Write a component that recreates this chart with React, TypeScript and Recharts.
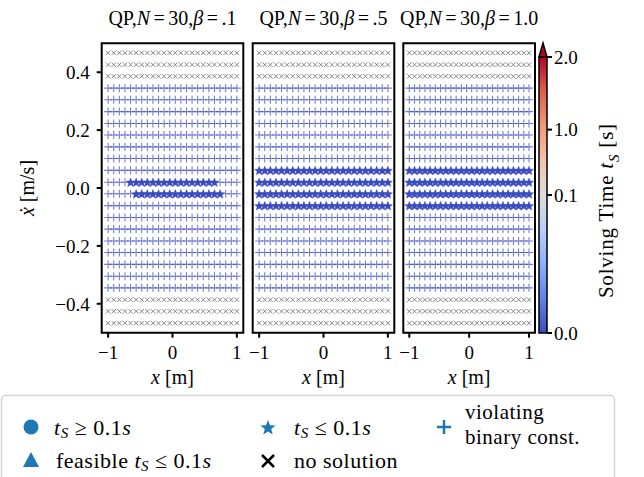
import React from 'react';
import { ScatterChart, Scatter, XAxis, YAxis, ReferenceArea, ComposedChart } from 'recharts';

// ---------- data ----------
const positions = [-1, -0.913, -0.826, -0.739, -0.652, -0.565, -0.478, -0.391, -0.304, -0.217, -0.13, -0.043,
  0.043, 0.13, 0.217, 0.304, 0.391, 0.478, 0.565, 0.652, 0.739, 0.826, 0.913, 1];
const velocities = [-0.467, -0.426, -0.386, -0.345, -0.305, -0.264, -0.223, -0.183, -0.142, -0.102, -0.061, -0.02,
  0.02, 0.061, 0.102, 0.142, 0.183, 0.223, 0.264, 0.305, 0.345, 0.386, 0.426, 0.467];
const noSolutionVelocities = [-0.467, -0.426, -0.386, 0.386, 0.426, 0.467];
const starSpansBeta01 = [
  { v: 0.02, from: -0.652, to: 0.652 },
  { v: -0.02, from: -0.565, to: 0.739 },
];
const starSpansBeta05 = [
  { v: 0.061, from: -1, to: 1 },
  { v: 0.02, from: -1, to: 1 },
  { v: -0.02, from: -1, to: 1 },
  { v: -0.061, from: -1, to: 1 },
];
const starSpansBeta10 = [
  { v: 0.061, from: -1, to: 1 },
  { v: 0.02, from: -1, to: 1 },
  { v: -0.02, from: -1, to: 1 },
  { v: -0.061, from: -1, to: 1 },
];
const betaLabels = ['.1', '.5', '1.0'];
const xTicks = [-1, 0, 1];
const yTicks = [-0.4, -0.2, 0, 0.2, 0.4];
const colorbarTicks = [0, 0.1, 1.0, 2.0];
const colorbarLabels = ['0.0', '0.1', '1.0', '2.0'];

// ---------- helpers ----------
const FONT = "'Liberation Serif', serif";
const near = (a: number, b: number) => Math.abs(a - b) < 1e-6;

function classify(spans: { v: number; from: number; to: number }[]) {
  const cross: any[] = [], plus: any[] = [], star: any[] = [];
  for (const v of velocities) {
    for (const x of positions) {
      if (noSolutionVelocities.some((n) => near(n, v))) cross.push({ x, y: v });
      else if (spans.some((s) => near(s.v, v) && x >= s.from - 1e-6 && x <= s.to + 1e-6)) star.push({ x, y: v });
      else plus.push({ x, y: v });
    }
  }
  return { cross, plus, star };
}

// TwoSlopeNorm(vmin=0, vcenter=0.1, vmax=2)
const norm = (t: number) => (t <= 0.1 ? (t / 0.1) * 0.5 : 0.5 + ((t - 0.1) / 1.9) * 0.5);

function starPath(cx: number, cy: number, R: number, r: number) {
  let d = '';
  for (let i = 0; i < 10; i++) {
    const rad = i % 2 === 0 ? R : r;
    const a = -Math.PI / 2 + (i * Math.PI) / 5;
    d += (i === 0 ? 'M' : 'L') + (cx + rad * Math.cos(a)).toFixed(2) + ',' + (cy + rad * Math.sin(a)).toFixed(2);
  }
  return d + 'Z';
}

const CrossShape = (p: any) => {
  const { cx, cy } = p;
  const s = 2.2;
  return (
    <path d={`M${cx - s},${cy - s}L${cx + s},${cy + s}M${cx - s},${cy + s}L${cx + s},${cy - s}`}
      stroke="#7a7a7a" strokeWidth={0.9} fill="none" />
  );
};
const PlusShape = (p: any) => {
  const { cx, cy } = p;
  const s = 4;
  return (
    <path d={`M${cx - s},${cy}L${cx + s},${cy}M${cx},${cy - s}L${cx},${cy + s}`}
      stroke="#3b4cc0" strokeOpacity={0.72} strokeWidth={1.1} fill="none" />
  );
};
const StarShape = (p: any) => {
  const { cx, cy } = p;
  return <path d={starPath(cx, cy + 0.5, 4.8, 2.1)} fill="#3b4cc0" stroke="#3b4cc0" strokeWidth={0.4} />;
};

const fmtX = (v: number) => (v < 0 ? '\u2212' + Math.abs(v) : String(v));
const fmtY = (v: number) => (v < 0 ? '\u2212' : '') + Math.abs(v).toFixed(1);

const BOX_T = 43.3;
const BOX_B = 332.7;
const CH_W = 644;
const CH_H = 400;
const YW = 40;
const XH = 30;

function Panel({ spans, L, R, showY }: { spans: any[]; L: number; R: number; showY: boolean }) {
  const d = classify(spans);
  return (
    <div style={{ position: 'absolute', left: 0, top: 0, fontFamily: FONT }}>
      <ScatterChart width={CH_W} height={CH_H}
        margin={{ left: L - YW, right: CH_W - R, top: BOX_T, bottom: CH_H - BOX_B - XH }}>
        <XAxis type="number" dataKey="x" domain={[-1.1, 1.1]} ticks={xTicks} allowDataOverflow
          height={XH} tickFormatter={fmtX} tickSize={5} tickMargin={8} axisLine={false}
          tickLine={{ stroke: '#000', strokeWidth: 2 }}
          tick={{ fill: '#000', fontSize: 19, style: { fontFamily: FONT } }} />
        <YAxis type="number" dataKey="y" domain={[-0.5, 0.5]} ticks={yTicks} allowDataOverflow
          width={YW} tickFormatter={fmtY} tickSize={5} tickMargin={7} axisLine={false}
          tickLine={{ stroke: '#000', strokeWidth: 2 }}
          tick={showY ? { fill: '#000', fontSize: 19, style: { fontFamily: FONT } } : false} />
        <Scatter data={d.plus} shape={PlusShape} isAnimationActive={false} />
        <Scatter data={d.star} shape={StarShape} isAnimationActive={false} />
        <Scatter data={d.cross} shape={CrossShape} isAnimationActive={false} />
        <ReferenceArea x1={-1.1} x2={1.1} y1={-0.5} y2={0.5} fill="none" fillOpacity={0}
          stroke="#000" strokeWidth={2} ifOverflow="visible" />
      </ScatterChart>
    </div>
  );
}

const CB_L = 539;
const CB_R = 547;
const CB_TOP = 57;
const CB_TIP = 43;
const CB_B = 333;
const extTop = 1 + (CB_TOP - CB_TIP) / (CB_B - CB_TOP);

function Colorbar() {
  const tickPos = colorbarTicks.map(norm);
  const labelFor = (v: number) => {
    const i = tickPos.findIndex((t) => near(t, v));
    return i >= 0 ? colorbarLabels[i] : '';
  };
  return (
    <div style={{ position: 'absolute', left: 0, top: 0, fontFamily: FONT }}>
      <ComposedChart width={CH_W} height={CH_H}
        margin={{ left: CB_L, right: CH_W - CB_R - 50, top: CB_TIP, bottom: CH_H - CB_B }}>
        <defs>
          <linearGradient id="coolwarm" x1="0" y1="1" x2="0" y2="0">
            <stop offset="0" stopColor="#3b4cc0" />
            <stop offset="0.125" stopColor="#6282ea" />
            <stop offset="0.25" stopColor="#8db0fe" />
            <stop offset="0.375" stopColor="#b8d0f9" />
            <stop offset="0.5" stopColor="#dddcdc" />
            <stop offset="0.625" stopColor="#f5c4ac" />
            <stop offset="0.75" stopColor="#f4987a" />
            <stop offset="0.875" stopColor="#de604d" />
            <stop offset="1" stopColor="#b40426" />
          </linearGradient>
        </defs>
        <XAxis type="number" dataKey="x" domain={[0, 1]} hide allowDataOverflow />
        <YAxis type="number" dataKey="y" orientation="right" domain={[0, extTop]} allowDataOverflow
          ticks={tickPos} tickFormatter={labelFor} width={50} tickSize={5} tickMargin={2} axisLine={false}
          tickLine={{ stroke: '#000', strokeWidth: 2 }}
          tick={{ fill: '#000', fontSize: 19, style: { fontFamily: FONT } }} />
        <Scatter data={[]} isAnimationActive={false} />
        <ReferenceArea x1={0} x2={1} y1={0} y2={1} fill="url(#coolwarm)" fillOpacity={1}
          stroke="#000" strokeWidth={1.5} ifOverflow="visible" />
        <ReferenceArea x1={0} x2={1} y1={1} y2={extTop} ifOverflow="visible"
          shape={(p: any) => (
            <path d={`M${p.x},${p.y + p.height}L${p.x + p.width / 2},${p.y}L${p.x + p.width},${p.y + p.height}Z`}
              fill="#b40426" stroke="#000" strokeWidth={1.5} />
          )} />
      </ComposedChart>
    </div>
  );
}

function Legend() {
  const blue = '#1f77b4';
  const ts = { style: { fontFamily: FONT, fontSize: 22, letterSpacing: 0.5 }, fill: '#000' } as any;
  const ts2 = { style: { fontFamily: FONT, fontSize: 21, letterSpacing: 0.5 }, fill: '#000' } as any;
  const TS = () => (<><tspan fontStyle="italic">t</tspan><tspan fontStyle="italic" style={{ fontSize: 15 }} dy={3}>S</tspan><tspan dy={-3}>{'\u2005'}</tspan></>);
  return (
    <svg width={644} height={90} style={{ position: 'absolute', left: 0, top: 390, fontFamily: FONT }}>
      <rect x={1.5} y={5.5} width={613} height={100} rx={4} fill="#fff" stroke="#d6d6d6" strokeWidth={1.5} />
      <circle cx={31} cy={37} r={7.5} fill={blue} />
      <text x={54} y={45} {...ts}><TS />{'\u2265\u20050.1'}<tspan fontStyle="italic">s</tspan></text>
      <path d="M31,62 L39,77 L23,77 Z" fill={blue} />
      <text x={56} y={78} {...ts}>feasible <TS />{'\u2264\u20050.1'}<tspan fontStyle="italic">s</tspan></text>
      <path d={starPath(268, 38, 8, 3.4)} fill={blue} />
      <text x={294} y={45} {...ts}><TS />{'\u2264\u20050.1'}<tspan fontStyle="italic">s</tspan></text>
      <path d="M262,65 L274,77 M262,77 L274,65" stroke="#000" strokeWidth={2.5} />
      <text x={294} y={78} {...ts}>no solution</text>
      <path d="M437,37 L451,37 M444,30 L444,44" stroke={blue} strokeWidth={2.5} />
      <text x={465} y={29} {...ts2}>violating</text>
      <text x={465} y={54} {...ts2}>binary const.</text>
    </svg>
  );
}

const panelDefs = [
  { spans: starSpansBeta01, L: 101.7, R: 243.3, showY: true },
  { spans: starSpansBeta05, L: 252.7, R: 394.3, showY: false },
  { spans: starSpansBeta10, L: 403.3, R: 535, showY: false },
];

const eq = <span style={{ margin: '0 3.5px' }}>=</span>;

export default function App() {
  return (
    <div style={{ position: 'absolute', left: 0, top: 0, width: 644, height: 477, background: '#fff', overflow: 'hidden', fontFamily: FONT }}>
      {panelDefs.map((p, i) => (
        <Panel key={i} spans={p.spans} L={p.L} R={p.R} showY={p.showY} />
      ))}
      <Colorbar />
      {panelDefs.map((p, i) => (
        <div key={'t' + i} style={{ position: 'absolute', left: (p.L + p.R) / 2 - 100, width: 200, top: 6, textAlign: 'center', fontFamily: FONT, fontSize: 20, whiteSpace: 'nowrap', lineHeight: '24px' }}>
          QP,<i>N</i>{eq}30,<i>β</i>{eq}{betaLabels[i]}
        </div>
      ))}
      {panelDefs.map((p, i) => (
        <div key={'x' + i} style={{ position: 'absolute', left: (p.L + p.R) / 2 - 60, width: 120, top: 365, textAlign: 'center', fontFamily: FONT, fontSize: 20, lineHeight: '24px' }}>
          <i>x</i> [m]
        </div>
      ))}
      <div style={{ position: 'absolute', left: 27 - 60, top: 188 - 12, width: 120, textAlign: 'center', transform: 'rotate(-90deg)', fontFamily: FONT, fontSize: 20, lineHeight: '24px' }}>
        <i>x&#775;</i> [m/s]
      </div>
      <div style={{ position: 'absolute', left: 610 - 110, top: 207 - 12, width: 220, textAlign: 'center', transform: 'rotate(-90deg)', fontFamily: FONT, fontSize: 21, letterSpacing: 0.8, lineHeight: '24px', whiteSpace: 'nowrap' }}>
        Solving Time <i>t</i><sub style={{ fontSize: 15, fontStyle: 'italic' }}>S</sub> [s]
      </div>
      <Legend />
    </div>
  );
}
